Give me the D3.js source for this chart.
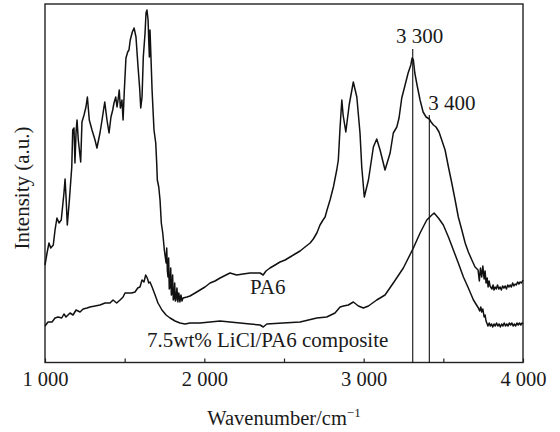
<!DOCTYPE html>
<html><head><meta charset="utf-8">
<script src="https://cdn.jsdelivr.net/npm/d3@7/dist/d3.min.js"></script>
<style>
body{margin:0;background:#fff}
svg{display:block}
text{font-family:"Liberation Serif","Times New Roman",serif;fill:#1a1a1a}
</style>
</head><body>
<svg id="chart" width="560" height="432"></svg>
<script>
// PA6 spectrum (wavenumber, intensity a.u.)
const pa6Wn = [1000,1014,1025,1036,1052,1063,1075,1088,1102,1119,1126,1132,1140,1153,1168,1174,1182,1188,1195,1201,1209,1224,1232,1245,1257,1266,1278,1295,1314,1326,1345,1358,1375,1389,1402,1414,1425,1433,1444,1452,1460,1466,1473,1483,1490,1498,1508,1519,1527,1535,1548,1559,1571,1584,1594,1601,1609,1617,1628,1634,1640,1647,1651,1655,1659,1665,1672,1678,1684,1695,1701,1705,1714,1722,1730,1739,1749,1760,1764,1768,1772,1776,1780,1785,1789,1793,1797,1801,1805,1810,1814,1818,1822,1828,1834,1840,1847,1853,1860,1866,1891,1910,1942,1973,2004,2036,2067,2099,2136,2161,2203,2243,2287,2318,2350,2369,2387,2412,2444,2475,2507,2538,2569,2601,2632,2664,2684,2706,2726,2745,2758,2770,2789,2810,2831,2841,2852,2863,2871,2888,2909,2935,2957,2977,2988,3004,3030,3061,3082,3103,3134,3166,3186,3208,3222,3239,3260,3279,3296,3304,3312,3321,3335,3354,3373,3392,3412,3423,3438,3454,3473,3490,3511,3532,3553,3574,3594,3616,3637,3657,3679,3699,3718,3726,3733,3741,3748,3756,3762,3768,3775,3781,3787,3793,3805,3812,3818,3825,3832,3840,3848,3856,3864,3872,3880,3888,3896,3904,3912,3919,3927,3935,3943,3950,3958,3966,3974,3982,3990,4000];
const pa6I = [98,111,120,115,118,133,145,140,143,170,184,166,138,163,196,233,235,200,231,243,223,201,241,248,256,266,243,233,223,215,230,243,261,243,230,246,253,260,266,256,265,273,255,263,243,273,305,311,313,323,331,335,326,296,275,255,266,306,330,350,353,343,323,306,333,306,273,253,233,220,200,183,176,163,140,130,113,100,115,92,86,105,74,76,95,68,70,88,63,65,80,62,63,75,61,70,61,68,62,65,66,67,70,73,76,80,82,85,88,90,88,89,90,90,90,88,92,95,98,101,103,106,109,112,116,120,124,130,138,143,146,153,163,176,193,203,236,263,248,231,258,281,266,230,196,166,183,216,224,213,193,210,230,236,245,265,278,290,298,305,303,290,278,263,251,246,244,241,238,236,231,223,213,196,180,163,146,133,120,111,103,96,93,82,95,86,97,84,92,80,85,76,82,77,74,78,73,76,74,78,74,76,73,77,75,77,74,78,76,78,76,80,77,79,78,81,79,81,80,83];

// 7.5wt% LiCl/PA6 composite spectrum
const compWn = [1000,1019,1044,1063,1082,1105,1119,1132,1157,1176,1195,1220,1239,1264,1282,1314,1345,1377,1408,1427,1450,1471,1490,1502,1521,1544,1565,1582,1596,1609,1621,1632,1642,1651,1659,1672,1691,1709,1734,1760,1785,1816,1847,1879,1910,1973,2036,2099,2161,2224,2287,2350,2370,2392,2494,2601,2706,2768,2820,2852,2873,2904,2935,2967,2998,3030,3082,3134,3186,3249,3312,3354,3396,3428,3442,3469,3500,3532,3563,3594,3626,3657,3689,3720,3728,3735,3741,3748,3756,3762,3768,3773,3780,3788,3795,3803,3810,3818,3826,3834,3842,3850,3858,3866,3874,3882,3890,3898,3906,3914,3922,3930,3938,3946,3954,3962,3970,3978,3986,3994,4000];
const compI = [37,41,41,45,46,45,49,46,50,48,53,51,54,55,56,57,58,60,60,63,60,63,66,70,70,70,71,75,76,83,81,88,85,80,81,76,68,60,53,48,45,42,40,39,40,40,41,42,41,40,39,38,36,39,40,41,45,46,50,56,57,58,61,57,55,57,63,68,80,95,115,130,143,148,150,145,138,126,113,100,86,75,63,55,52,56,51,54,46,48,42,40,37,40,37,39,36,39,37,40,37,39,36,39,37,40,37,39,37,40,38,40,37,39,37,40,38,40,38,40,39];

// axis ticks
const xTicks = [1000,1500,2000,2500,3000,3500,4000];
// peak markers
const markerWn = [3308, 3412];
const markerTop = [314, 248];
const markerLabels = ["3 300", "3 400"];

const svg = d3.select("#chart");
const x = d3.scaleLinear().domain([1000,4000]).range([45,523]);
const y = d3.scaleLinear().domain([0,360]).range([363,3]);

const line = d3.line().x(d=>x(d[0])).y(d=>y(d[1]));
const pa6 = pa6Wn.map((w,i)=>[w,pa6I[i]]);
const comp = compWn.map((w,i)=>[w,compI[i]]);

// frame
svg.append("rect").attr("x",x(1000)).attr("y",4).attr("width",x(4000)-x(1000)).attr("height",y(0)-0.5-4)
  .attr("fill","none").attr("stroke","#222").attr("stroke-width",1.4);

// marker lines
markerWn.forEach((w,i)=>{
  svg.append("line").attr("x1",x(w)).attr("x2",x(w)).attr("y1",y(markerTop[i])).attr("y2",y(0))
    .attr("stroke","#111").attr("stroke-width",1.1);
});

svg.append("path").attr("d",line(pa6)).attr("fill","none").attr("stroke","#111").attr("stroke-width",1.5).attr("stroke-linejoin","round");
svg.append("path").attr("d",line(comp)).attr("fill","none").attr("stroke","#111").attr("stroke-width",1.5).attr("stroke-linejoin","round");

// x axis
const fmt = d => d%1000===0 ? d3.format(",")(d).replace(","," ") : "";
const ax = svg.append("g").attr("transform",`translate(0,${y(0)-0.5})`)
  .call(d3.axisBottom(x).tickValues(xTicks).tickSizeInner(-4).tickSizeOuter(0).tickPadding(9).tickFormat(fmt));
ax.select(".domain").remove();
ax.selectAll(".tick line").attr("stroke","#222").attr("stroke-width",1.2);
ax.selectAll(".tick text").attr("font-size",20.5).attr("fill","#1a1a1a")
  .attr("font-family","'Liberation Serif','Times New Roman',serif");

// marker labels
markerWn.forEach((w,i)=>{
  svg.append("text").attr("x", i===0 ? x(w)+7 : x(w)-1).attr("y", i===0 ? 43 : 110)
    .attr("text-anchor", i===0 ? "middle" : "start").attr("font-size",21).text(markerLabels[i]);
});

// curve labels
svg.append("text").attr("x",250).attr("y",294).attr("font-size",21).text("PA6");
svg.append("text").attr("x",147).attr("y",347).attr("font-size",21).text("7.5wt% LiCl/PA6 composite");

// axis titles
const xt = svg.append("text").attr("x",(x(1000)+x(4000))/2).attr("y",425).attr("text-anchor","middle").attr("font-size",20.5);
xt.append("tspan").text("Wavenumber/cm");
xt.append("tspan").attr("font-size",13).attr("dy",-8).text("\u22121");
svg.append("text").attr("transform",`translate(29,188) rotate(-90)`).attr("text-anchor","middle").attr("font-size",21).text("Intensity (a.u.)");
</script>
</body></html>
